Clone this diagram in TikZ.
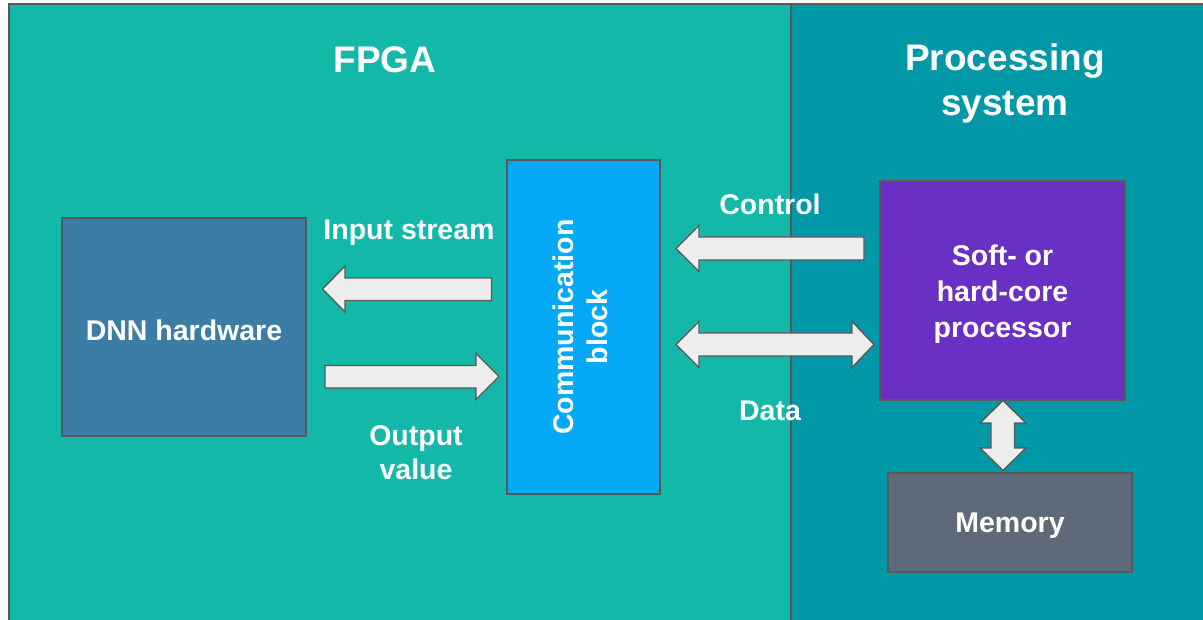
\documentclass[tikz,border=0pt]{standalone}
\usepackage{fontspec}
\setmainfont{Liberation Sans}
\begin{document}
\begin{tikzpicture}[x=1pt,y=-1pt,
  edge/.style={draw=black!65,line width=1.6pt},
  block/.style={edge,rectangle,inner sep=0pt,text=white,align=center,
    font=\fontsize{28.5}{34}\selectfont\bfseries},
  label/.style={text=white,align=center,inner sep=0pt,
    font=\fontsize{28.5}{34}\selectfont\bfseries},
  title/.style={text=white,align=center,inner sep=0pt,
    font=\fontsize{37}{45}\selectfont\bfseries},
  blockarrow/.style={draw=black!65,fill=black!7,line width=1.4pt,line join=miter}]
\definecolor{fpgateal}{HTML}{13B8A8}
\definecolor{psteal}{HTML}{0097A7}
\definecolor{dnnblue}{HTML}{3C7DA6}
\definecolor{commblue}{HTML}{03A9F4}
\definecolor{cpupurple}{HTML}{6930C3}
\definecolor{memgray}{HTML}{5E6A7A}
\useasboundingbox (0,0) rectangle (1203,620);
\fill[white] (0,0) rectangle (1203,620);
% regions
\begin{scope}
\clip (0,0) rectangle (1203,620);
\fill[fpgateal] (9,4) rectangle (791,640);
\fill[psteal] (791,4) rectangle (1220,640);
\draw[edge] (9,640) -- (9,4) -- (1220,4);
\draw[draw=black!65,line width=1.2pt] (791,4) -- (791,640);
\end{scope}
\node[title] (tfpga) at (385,60) {FPGA};
\node[title] (tps) at (1005,83) {Processing\\system};
% blocks
\node[block,fill=dnnblue,minimum width=244pt,minimum height=218pt] (dnn) at (184,327) {};
\node[label] (dnntext) at (184,330) {DNN hardware};
\node[block,fill=commblue,minimum width=153pt,minimum height=334pt] (comm) at (583.5,327) {};
\node[label,rotate=90] (commtext) at (580,327) {Communication\\block};
\node[block,fill=cpupurple,minimum width=245pt,minimum height=219pt] (cpu) at (1002.5,290.5) {};
\node[label,font=\fontsize{28.5}{36}\selectfont\bfseries] (cputext) at (1002.5,294) {Soft- or\\hard-core\\processor};
\node[block,fill=memgray,minimum width=244pt,minimum height=99pt] (mem) at (1010,522.5) {};
\node[label] (memtext) at (1010,525.5) {Memory};
% block arrows
\draw[blockarrow] (491.5,278) -- (345,278) -- (345,266) -- (322.5,289) -- (345,312) -- (345,300.5) -- (491.5,300.5) -- cycle;
\draw[blockarrow] (325,365.5) -- (476,365.5) -- (476,353.5) -- (499,376.5) -- (476,399.5) -- (476,388) -- (325,388) -- cycle;
\draw[blockarrow] (864,237) -- (699,237) -- (699,225.5) -- (676,248.5) -- (699,271.5) -- (699,260) -- (864,260) -- cycle;
\draw[blockarrow] (699,333) -- (852,333) -- (852,321.5) -- (874,344.5) -- (852,367.5) -- (852,356) -- (699,356) -- (699,367.5) -- (676,344.5) -- (699,321.5) -- cycle;
\draw[blockarrow] (991,423) -- (980,423) -- (1003,400.5) -- (1026,423) -- (1014.5,423) -- (1014.5,448) -- (1026,448) -- (1003,470.5) -- (980,448) -- (991,448) -- cycle;
% arrow labels
\node[label] (lin) at (409,233) {Input stream};
\node[label] (lout) at (416,453) {Output\\value};
\node[label] (lctl) at (770,204) {Control};
\node[label] (ldata) at (770,411) {Data};
\end{tikzpicture}
\end{document}
